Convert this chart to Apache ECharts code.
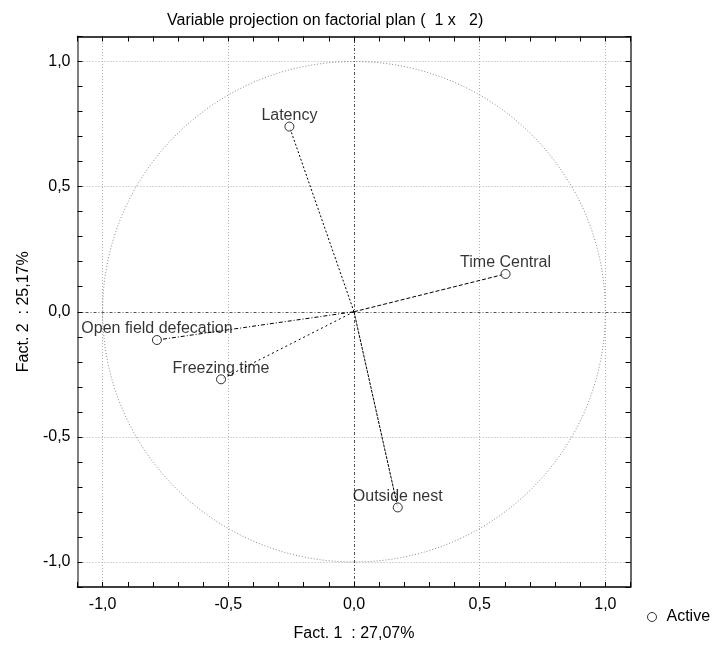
<!DOCTYPE html>
<html>
<head>
<meta charset="utf-8">
<script src="https://cdn.jsdelivr.net/npm/echarts@6/dist/echarts.min.js"></script>
<style>html,body{margin:0;padding:0;background:#fff;}#c{width:718px;height:648px;}</style>
</head>
<body>
<div id="c"></div>
<script>
const variables = ['Latency', 'Time Central', 'Open field defecation', 'Freezing time', 'Outside nest'];
const fact1 = [-0.257, 0.603, -0.784, -0.529, 0.174];
const fact2 = [0.740, 0.151, -0.113, -0.270, -0.782];
const gridValues = [-1, -0.5, 0.5, 1];
const zeroValue = [0];
const vectorDashes = [[2, 2], [4, 2], [4, 2, 1, 2], [2, 3], [3, 1]];

const FONT = 'Liberation Sans, Arial, sans-serif';
const chart = echarts.init(document.getElementById('c'));

function fmt(v) {
  const r = Math.round(v * 10);
  if (r % 5 !== 0) return '';
  return (r / 10).toFixed(1).replace('.', ',');
}

const axisCommon = {
  type: 'value', min: -1.1, max: 1.1, interval: 0.1,
  splitLine: { show: false },
  axisTick: { show: true, inside: true, length: 5, lineStyle: { color: '#000', width: 1 } },
  axisLabel: { formatter: fmt, fontSize: 16, color: '#000', fontFamily: FONT },
};

const points = fact1.map((x, i) => ({ value: [x, fact2[i]], name: variables[i] }));

const gridLines = [];
gridValues.forEach(v => {
  gridLines.push({ xAxis: v, lineStyle: { color: '#b0b0b0', type: [1, 2], width: 1 } });
  gridLines.push({ yAxis: v, lineStyle: { color: '#b0b0b0', type: [1, 2], width: 1 } });
});
zeroValue.forEach(v => {
  gridLines.push({ xAxis: v, lineStyle: { color: '#555', type: [3, 2, 1, 2], width: 1 } });
  gridLines.push({ yAxis: v, lineStyle: { color: '#555', type: [3, 2, 1, 2], width: 1 } });
});

chart.setOption({
  animation: false,
  backgroundColor: '#fff',
  title: {
    text: 'Variable projection on factorial plan (  1 x   2)',
    left: 162, top: 8,
    textStyle: { fontSize: 16, fontWeight: 'normal', color: '#000', fontFamily: FONT }
  },
  legend: {
    data: ['Active'], left: 642, top: 604,
    icon: 'circle', itemWidth: 9, itemHeight: 9, itemGap: 6,
    itemStyle: { color: '#fff', borderColor: '#000', borderWidth: 1 },
    textStyle: { fontSize: 16, color: '#000', fontFamily: FONT, padding: [0, 0, 0, 5] }
  },
  grid: { left: 77.5, right: 87.5, top: 36.5, bottom: 61, containLabel: false },
  xAxis: [
    Object.assign({}, axisCommon, {
      position: 'bottom',
      name: 'Fact. 1  : 27,07%', nameLocation: 'middle', nameGap: 39,
      nameTextStyle: { fontSize: 16, color: '#000', fontFamily: FONT },
      axisLine: { show: true, onZero: false, lineStyle: { color: '#000', width: 1.5 } },
      axisLabel: Object.assign({}, axisCommon.axisLabel, { margin: 10 })
    }),
    Object.assign({}, axisCommon, {
      position: 'top',
      axisLine: { show: true, onZero: false, lineStyle: { color: '#000', width: 1.5 } },
      axisLabel: { show: false }
    })
  ],
  yAxis: [
    Object.assign({}, axisCommon, {
      position: 'left',
      name: 'Fact. 2  : 25,17%', nameLocation: 'middle', nameGap: 42,
      nameTextStyle: { fontSize: 16, color: '#000', fontFamily: FONT },
      axisLine: { show: true, onZero: false, lineStyle: { color: '#808080', width: 2 } },
      axisLabel: Object.assign({}, axisCommon.axisLabel, { margin: 7 })
    }),
    Object.assign({}, axisCommon, {
      position: 'right',
      axisLine: { show: true, onZero: false, lineStyle: { color: '#333', width: 1.5 } },
      axisLabel: { show: false }
    })
  ],
  series: [
    {
      type: 'custom', silent: true, z: 1,
      data: [[0, 0, 1]],
      renderItem: function (params, api) {
        const c = api.coord([api.value(0), api.value(1)]);
        const e = api.coord([api.value(2), api.value(2)]);
        return {
          type: 'ellipse',
          shape: { cx: c[0], cy: c[1], rx: e[0] - c[0], ry: c[1] - e[1] },
          style: { fill: 'none', stroke: '#8a8a8a', lineWidth: 1, lineDash: [1, 2] }
        };
      }
    },
    {
      type: 'custom', silent: true, z: 2,
      data: fact1.map((x, i) => [x, fact2[i]]),
      renderItem: function (params, api) {
        const o = api.coord([0, 0]);
        const p = api.coord([api.value(0), api.value(1)]);
        return {
          type: 'line',
          shape: { x1: o[0], y1: o[1], x2: p[0], y2: p[1] },
          style: { stroke: '#000', lineWidth: 1, lineDash: vectorDashes[params.dataIndex] }
        };
      }
    },
    {
      name: 'Active', type: 'scatter', z: 3,
      symbol: 'circle', symbolSize: 9,
      itemStyle: { color: '#fff', borderColor: '#000', borderWidth: 1 },
      data: points,
      label: {
        show: true, position: 'top', distance: -2,
        formatter: '{b}', fontSize: 16, color: '#000', fontFamily: FONT
      },
      markLine: {
        silent: true, symbol: 'none', label: { show: false }, z: 0,
        data: gridLines
      }
    }
  ]
});
</script>
</body>
</html>
